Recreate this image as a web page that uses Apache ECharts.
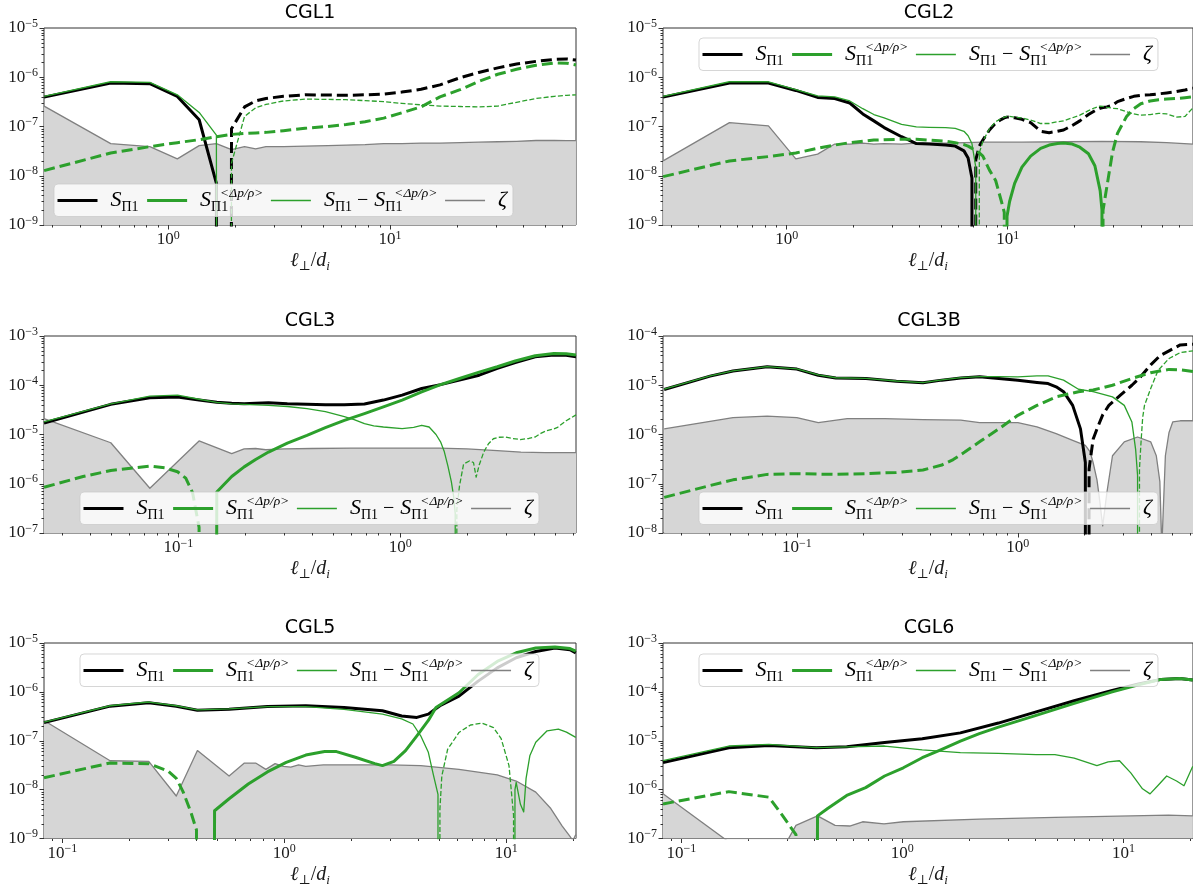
<!DOCTYPE html>
<html>
<head>
<meta charset="utf-8">
<script src="https://cdn.jsdelivr.net/npm/echarts@6/dist/echarts.min.js"></script>
<style>
  html, body { margin: 0; padding: 0; background: #fff; }
  #c { width: 1193px; height: 888px; }
</style>
</head>
<body>
<div id="c"></div>
<script>
// Scale-dependent energy transfer terms vs. l_perp/d_i for six CGL runs.
// Signed values: positive parts are drawn solid, negative parts (as magnitude) dashed.

// ---------- CGL1 ----------
const cgl1_xlim = [0.2757, 68.93];
const cgl1_ylim = [1e-9, 1e-5];
const cgl1_l = [0.276,0.551,0.827,1.10,1.38,1.65,1.93,2.21,2.48,2.76,3.31,4.14,5.24,6.34,7.72,9.37,11.3,13.8,16.8,20.7,25.1,30.6,37.2,45.5,55.1,62.6,68.9];
const cgl1_S = [3.95e-7,7.6e-7,7.4e-7,4.07e-7,1.37e-7,7e-9,-9e-8,-2.5e-7,-3.3e-7,-3.7e-7,-4.1e-7,-4.4e-7,-4.35e-7,-4.3e-7,-4.4e-7,-4.55e-7,-5.0e-7,-5.7e-7,-7.0e-7,-9.8e-7,-1.25e-6,-1.55e-6,-1.85e-6,-2.1e-6,-2.3e-6,-2.35e-6,-2.24e-6];
const cgl1_Sdp = [-1.27e-8,-2.9e-8,-3.9e-8,-4.7e-8,-5.4e-8,-6.2e-8,-6.9e-8,-7.2e-8,-7.4e-8,-7.6e-8,-8.2e-8,-9.2e-8,-1.0e-7,-1.1e-7,-1.25e-7,-1.48e-7,-1.9e-7,-2.5e-7,-4.0e-7,-5.6e-7,-8.2e-7,-1.15e-6,-1.45e-6,-1.75e-6,-1.95e-6,-1.93e-6,-1.78e-6];
const cgl1_Sdiff = [4.1e-7,8.1e-7,7.9e-7,4.4e-7,1.93e-7,6.7e-8,-1.8e-8,-1.6e-7,-2.4e-7,-2.8e-7,-3.3e-7,-3.6e-7,-3.55e-7,-3.5e-7,-3.35e-7,-3.2e-7,-2.95e-7,-2.75e-7,-2.6e-7,-2.55e-7,-2.5e-7,-2.6e-7,-3.1e-7,-3.7e-7,-4.1e-7,-4.3e-7,-4.4e-7];
const cgl1_zeta = [2.6e-7,4.5e-8,3.9e-8,2.2e-8,4.1e-8,4.5e-8,3.4e-8,3.9e-8,3.5e-8,3.9e-8,3.9e-8,4.0e-8,4.1e-8,4.2e-8,4.3e-8,4.5e-8,4.5e-8,4.6e-8,4.6e-8,4.7e-8,4.8e-8,4.9e-8,5.0e-8,5.2e-8,5.2e-8,5.15e-8,5.15e-8];

// ---------- CGL2 ----------
const cgl2_xlim = [0.2757, 68.93];
const cgl2_ylim = [1e-9, 1e-5];
const cgl2_l = [0.276,0.551,0.827,1.10,1.38,1.65,1.93,2.21,2.48,2.76,
  3.31,3.86,4.41,5.24,5.79,6.34,6.62,6.89,7.17,7.44,
  7.72,8.27,8.82,9.37,9.65,9.93,10.2,10.75,11.6,12.7,
  14.1,15.4,16.8,17.9,19.6,21.2,23.2,24.8,26.2,26.7,
  27.0,28.1,29.8,31.4,34.5,37.2,40.0,44.1,48.2,52.4,
  57.9,63.4,68.9];
const cgl2_S = [3.95e-7,7.6e-7,7.6e-7,5.4e-7,3.9e-7,3.7e-7,3.0e-7,1.8e-7,1.3e-7,9.5e-8,
  6.2e-8,4.5e-8,4.4e-8,4.2e-8,4.0e-8,3.2e-8,2.3e-8,9e-9,-2.1e-8,-4e-8,
  -5.3e-8,-8.5e-8,-1.17e-7,-1.4e-7,-1.5e-7,-1.55e-7,-1.57e-7,-1.5e-7,-1.4e-7,-1.2e-7,
  -8e-8,-7.5e-8,-8e-8,-8.5e-8,-1.05e-7,-1.3e-7,-1.75e-7,-2.1e-7,-2.35e-7,-2.4e-7,
  -2.42e-7,-2.5e-7,-2.7e-7,-3.2e-7,-3.7e-7,-4.1e-7,-4.3e-7,-4.4e-7,-4.6e-7,-4.8e-7,
  -5.1e-7,-5.5e-7,-6.0e-7];
const cgl2_Sdp = [-9.6e-9,-2.0e-8,-2.45e-8,-2.9e-8,-3.6e-8,-4.2e-8,-4.7e-8,-5.0e-8,-5.3e-8,-5.4e-8,
  -5.5e-8,-5.5e-8,-5.3e-8,-5.0e-8,-4.7e-8,-4.3e-8,-4.0e-8,-3.6e-8,-3.2e-8,-2.9e-8,
  -2.5e-8,-1.3e-8,-8e-9,-3e-9,-1.8e-9,1.5e-9,3e-9,7e-9,1.5e-8,2.5e-8,
  3.6e-8,4.2e-8,4.5e-8,4.6e-8,4.4e-8,3.8e-8,2.8e-8,1.6e-8,5e-9,2e-9,
  -2e-9,-6e-9,-3e-8,-7.3e-8,-1.6e-7,-2.3e-7,-2.9e-7,-3.3e-7,-3.5e-7,-3.6e-7,
  -3.7e-7,-3.85e-7,-4.0e-7];
const cgl2_Sdiff = [4.1e-7,8.1e-7,8.1e-7,5.6e-7,4.2e-7,4.0e-7,3.3e-7,2.3e-7,1.75e-7,1.5e-7,
  1.1e-7,9.8e-8,9.6e-8,9.5e-8,9.2e-8,8.0e-8,6.5e-8,4.5e-8,1.5e-8,-2.9e-8,
  -5e-8,-9e-8,-1.25e-7,-1.45e-7,-1.55e-7,-1.6e-7,-1.6e-7,-1.55e-7,-1.5e-7,-1.35e-7,
  -1.15e-7,-1.15e-7,-1.25e-7,-1.3e-7,-1.5e-7,-1.7e-7,-2.1e-7,-2.4e-7,-2.6e-7,-2.6e-7,
  -2.55e-7,-2.45e-7,-2.35e-7,-2.3e-7,-2.0e-7,-1.8e-7,-1.7e-7,-1.75e-7,-1.85e-7,-1.8e-7,
  -1.55e-7,-1.6e-7,-2.4e-7];
const cgl2_zeta_l = [0.276,0.551,0.827,1.10,1.38,1.65,1.93,2.21,2.48,2.76,3.31,3.86,5.24,7.72,11.6,17.9,26.7,40.0,52.4,68.9];
const cgl2_zeta = [2.0e-8,1.2e-7,1.03e-7,2.2e-8,2.75e-8,4.4e-8,4.4e-8,4.6e-8,4.4e-8,4.5e-8,4.4e-8,4.6e-8,4.6e-8,4.8e-8,4.8e-8,4.9e-8,5.0e-8,4.9e-8,4.7e-8,4.4e-8];

// ---------- CGL3 ----------
const cgl3_xlim = [0.0248, 6.2];
const cgl3_ylim = [1e-7, 1e-3];
const cgl3_S_l = [0.0248,0.0496,0.0744,0.0992,0.124,0.149,0.174,0.198,0.223,0.255,0.31,0.38,0.46,0.56,0.69,0.84,1.02,1.25,1.52,1.85,2.27,2.74,3.3,4.06,4.93,5.6,6.2];
const cgl3_S = [1.71e-5,4.1e-5,5.6e-5,5.8e-5,5.0e-5,4.5e-5,4.3e-5,4.2e-5,4.3e-5,4.4e-5,4.2e-5,4.1e-5,4.0e-5,4.0e-5,4.15e-5,5.0e-5,6.3e-5,8.6e-5,1.03e-4,1.27e-4,1.6e-4,2.2e-4,2.9e-4,3.8e-4,4.1e-4,4.05e-4,3.8e-4];
const cgl3_Sdp_l = [0.0248,0.0372,0.0496,0.0744,0.0868,0.0992,0.108,0.116,0.124,0.149,0.174,0.198,0.223,0.255,0.31,0.38,0.46,0.56,0.69,0.84,1.02,1.25,1.52,1.85,2.27,2.74,3.3,4.06,4.93,5.6,6.2];
const cgl3_Sdp = [-8.5e-7,-1.4e-6,-1.86e-6,-2.28e-6,-2.1e-6,-1.75e-6,-1.3e-6,-6.5e-7,-1.3e-7,6.8e-7,1.4e-6,2.2e-6,3.1e-6,4.4e-6,6.7e-6,9.6e-6,1.38e-5,1.94e-5,2.65e-5,3.63e-5,5.0e-5,7.3e-5,1.03e-4,1.37e-4,1.85e-4,2.37e-4,3.1e-4,3.97e-4,4.4e-4,4.35e-4,4.1e-4];
const cgl3_Sdiff_l = [0.0248,0.0496,0.0744,0.0992,0.124,0.149,0.174,0.198,0.255,0.31,0.38,0.46,0.56,0.62,0.69,0.76,0.84,1.02,1.15,1.25,1.35,1.45,1.52,1.58,1.64,1.70,1.74,1.77,1.80,1.85,1.93,2.05,2.14,2.2,2.27,2.38,2.5,2.63,2.8,2.97,3.2,3.48,3.8,4.06,4.3,4.57,4.93,5.12,5.6,6.2];
const cgl3_Sdiff = [1.8e-5,4.2e-5,6.0e-5,6.3e-5,5.2e-5,4.5e-5,4.2e-5,4.1e-5,3.9e-5,3.7e-5,3.36e-5,2.9e-5,2.3e-5,2.0e-5,1.66e-5,1.5e-5,1.42e-5,1.32e-5,1.4e-5,1.54e-5,1.42e-5,1.0e-5,7.1e-6,4.5e-6,2.3e-6,1.1e-6,5.7e-7,2.5e-7,-3e-7,-9e-7,-2.5e-6,-2.9e-6,-2.7e-6,-1.37e-6,-2.4e-6,-4.4e-6,-6.5e-6,-8.2e-6,-8.8e-6,-8.9e-6,-8.3e-6,-7.9e-6,-8.3e-6,-8.9e-6,-1.05e-5,-1.2e-5,-1.3e-5,-1.4e-5,-1.9e-5,-2.5e-5];
const cgl3_zeta_l = [0.0248,0.0496,0.0744,0.124,0.174,0.198,0.223,0.248,0.3,0.4,0.6,1.0,1.5,2.0,2.74,3.5,4.5,6.2];
const cgl3_zeta = [2.1e-5,6.8e-6,8.1e-7,7.4e-6,4.1e-6,5.1e-6,5.2e-6,4.9e-6,5.1e-6,5.2e-6,5.3e-6,5.3e-6,5.3e-6,5.1e-6,4.7e-6,4.4e-6,4.3e-6,4.3e-6];

// ---------- CGL3B ----------
const cgl3b_xlim = [0.0248, 6.2];
const cgl3b_ylim = [1e-8, 1e-4];
const cgl3b_S_l = [0.0251,0.0405,0.0514,0.0734,0.1,0.125,0.15,0.2055,0.282,0.372,0.453,0.552,0.671,0.82,1.0,1.22,1.37,1.49,1.61,1.77,1.92,2.02,2.10,2.19,2.28,2.42,2.58,2.91,3.28,3.6,3.99,4.4,4.83,5.43,6.2];
const cgl3b_S = [8.2e-6,1.53e-5,1.94e-5,2.37e-5,2.13e-5,1.6e-5,1.41e-5,1.37e-5,1.21e-5,1.12e-5,1.27e-5,1.41e-5,1.48e-5,1.37e-5,1.27e-5,1.14e-5,1.08e-5,9.3e-6,7.4e-6,3.9e-6,1.3e-6,2.7e-7,-2.0e-7,-8e-7,-1.3e-6,-2.5e-6,-3.9e-6,-6.3e-6,-1.0e-5,-1.5e-5,-2.6e-5,-4.0e-5,-5.0e-5,-6.6e-5,-6.8e-5];
const cgl3b_Sdp_l = [0.0251,0.0405,0.0514,0.0734,0.1,0.15,0.2055,0.282,0.372,0.453,0.51,0.575,0.671,0.82,1.0,1.22,1.49,1.88,2.19,2.68,3.28,3.99,4.83,5.43,6.2];
const cgl3b_Sdp = [-5.3e-8,-9.2e-8,-1.2e-7,-1.55e-7,-1.6e-7,-1.55e-7,-1.6e-7,-1.7e-7,-1.9e-7,-2.4e-7,-3.1e-7,-4.4e-7,-7.1e-7,-1.3e-6,-2.45e-6,-3.9e-6,-5.8e-6,-7.4e-6,-8.0e-6,-1.0e-5,-1.37e-5,-1.8e-5,-2.1e-5,-2.05e-5,-1.9e-5];
const cgl3b_Sdiff_l = [0.0251,0.0405,0.0514,0.0734,0.1,0.125,0.15,0.2055,0.282,0.372,0.453,0.552,0.671,0.82,1.0,1.22,1.37,1.61,1.88,2.19,2.68,3.03,3.28,3.41,3.48,3.55,3.6,3.67,3.74,3.99,4.31,4.83,5.43,6.2];
const cgl3b_Sdiff = [8.3e-6,1.55e-5,1.96e-5,2.4e-5,2.15e-5,1.62e-5,1.42e-5,1.38e-5,1.22e-5,1.13e-5,1.28e-5,1.43e-5,1.5e-5,1.5e-5,1.48e-5,1.55e-5,1.55e-5,1.27e-5,8.3e-6,7.4e-6,5.8e-6,3.9e-6,1.8e-6,5e-7,1.5e-7,-2e-7,-6e-7,-2.2e-6,-3.9e-6,-8.6e-6,-2.0e-5,-3.5e-5,-4.6e-5,-5.0e-5];
const cgl3b_zeta_l = [0.0251,0.0405,0.0514,0.0734,0.1,0.125,0.169,0.25,0.372,0.552,0.671,1.0,1.22,1.49,1.77,2.02,2.12,2.19,2.28,2.33,2.42,2.53,2.68,3.03,3.48,3.99,4.23,4.39,4.48,4.65,4.83,5.02,5.43,6.2];
const cgl3b_zeta = [1.3e-6,1.85e-6,2.2e-6,2.37e-6,2.2e-6,1.74e-6,2.1e-6,2.1e-6,2.0e-6,1.95e-6,1.74e-6,1.74e-6,1.43e-6,1.04e-6,7.6e-7,6e-7,4.5e-7,2.7e-7,1.2e-7,5.8e-8,1.4e-8,6.8e-8,3.7e-7,7.1e-7,8.9e-7,7.1e-7,3.7e-7,1.1e-7,5e-9,3.7e-7,1.1e-6,1.8e-6,1.9e-6,1.9e-6];

// ---------- CGL5 ----------
const cgl5_xlim = [0.0826, 20.65];
const cgl5_ylim = [1e-9, 1e-5];
const cgl5_S_l = [0.0826,0.164,0.245,0.326,0.406,0.564,0.839,1.25,1.86,2.77,3.38,3.96,4.46,5.03,6.13,7.48,9.12,11.1,13.6,16.6,19.4,20.6];
const cgl5_S = [2.35e-7,5.1e-7,6.0e-7,5.1e-7,4.2e-7,4.4e-7,5.0e-7,5.2e-7,4.8e-7,4.1e-7,3.2e-7,3.0e-7,3.5e-7,5.2e-7,8.2e-7,1.66e-6,3.1e-6,5.0e-6,6.7e-6,7.9e-6,7.3e-6,6.3e-6];
const cgl5_Sdp_l = [0.0826,0.164,0.245,0.299,0.326,0.35,0.379,0.402,0.485,0.564,0.688,0.839,1.02,1.25,1.52,1.72,2.09,2.56,2.77,3.12,3.52,3.96,4.46,4.83,6.13,7.48,9.12,11.1,13.6,16.6,19.4,20.6];
const cgl5_Sdp = [-1.75e-8,-3.5e-8,-3.4e-8,-2.4e-8,-1.7e-8,-9e-9,-3.5e-9,-1.5e-9,3.7e-9,6.5e-9,1.3e-8,2.3e-8,3.6e-8,5.1e-8,6.0e-8,6.0e-8,4.6e-8,3.4e-8,3.1e-8,3.8e-8,6.3e-8,1.26e-7,2.6e-7,4.8e-7,9.6e-7,2.27e-6,4.2e-6,6.3e-6,7.9e-6,8.3e-6,7.7e-6,6.8e-6];
const cgl5_Sdiff_l = [0.0826,0.164,0.245,0.326,0.406,0.564,0.839,1.25,1.86,2.77,3.38,3.8,4.12,4.46,4.7,4.93,5.03,5.13,5.45,6.13,6.91,7.78,8.77,9.5,10.3,10.8,10.96,11.1,11.6,12.0,12.3,12.8,13.6,15.3,17.2,18.7,20.6];
const cgl5_Sdiff = [2.4e-7,5.2e-7,6.2e-7,5.2e-7,4.3e-7,4.5e-7,5.0e-7,5.0e-7,4.4e-7,3.5e-7,2.8e-7,2.2e-7,1.26e-7,5.8e-8,2e-8,8e-9,-4e-9,-1.9e-8,-6.7e-8,-1.48e-7,-2.1e-7,-2.3e-7,-1.86e-7,-1.1e-7,-3.1e-8,-3e-9,1e-8,1.4e-8,5e-9,3.5e-9,1.7e-8,5e-8,9.3e-8,1.6e-7,1.73e-7,1.5e-7,1.17e-7];
const cgl5_zeta_l = [0.0826,0.164,0.245,0.326,0.406,0.564,0.661,0.743,0.826,0.909,0.99,1.07,1.16,1.25,1.5,2.0,3.0,4.12,6.13,9.12,11.1,13.6,15.9,17.9,19.4,20.0,20.6];
const cgl5_zeta = [2.6e-7,3.9e-8,3.8e-8,7.4e-9,6.3e-8,1.9e-8,3.5e-8,3.5e-8,2.6e-8,3.4e-8,3.0e-8,2.9e-8,3.2e-8,3.0e-8,3.2e-8,3.2e-8,3.2e-8,3.1e-8,2.6e-8,2.0e-8,1.5e-8,8.9e-9,4.1e-9,1.8e-9,1.1e-9,9e-10,1.2e-9];

// ---------- CGL6 ----------
const cgl6_xlim = [0.0826, 20.65];
const cgl6_ylim = [1e-7, 1e-3];
const cgl6_S_l = [0.0826,0.164,0.249,0.408,0.56,0.831,1.23,1.83,2.72,4.03,5.99,8.9,11.7,14.8,18.0,20.6];
const cgl6_S = [3.6e-6,7.2e-6,8.0e-6,7.2e-6,7.5e-6,9.2e-6,1.1e-5,1.45e-5,2.3e-5,3.9e-5,6.6e-5,1.07e-4,1.45e-4,1.8e-4,1.87e-4,1.75e-4];
const cgl6_Sdp_l = [0.0826,0.164,0.249,0.286,0.33,0.413,0.459,0.56,0.682,0.831,1.01,1.23,1.5,1.83,2.23,2.72,4.03,5.99,8.9,11.7,14.8,18.0,20.6];
const cgl6_Sdp = [-5.1e-7,-9.1e-7,-7.0e-7,-3.0e-7,-1.2e-7,2.9e-7,4.1e-7,7.6e-7,1.1e-6,1.9e-6,2.8e-6,4.5e-6,6.6e-6,9.8e-6,1.4e-5,1.9e-5,3.3e-5,5.8e-5,1.0e-4,1.4e-4,1.8e-4,1.88e-4,1.75e-4];
const cgl6_Sdiff_l = [0.0826,0.164,0.249,0.408,0.56,0.831,1.23,1.83,2.72,4.03,4.9,5.99,7.59,8.53,9.6,10.8,12.2,13.2,14.3,15.7,17.4,18.8,20.6];
const cgl6_Sdiff = [3.9e-6,7.8e-6,8.4e-6,7.2e-6,7.5e-6,7.8e-6,6.5e-6,5.7e-6,5.5e-6,5.2e-6,5.2e-6,4.4e-6,3.1e-6,3.7e-6,3.9e-6,2.2e-6,1.04e-6,8.2e-7,1.2e-6,1.9e-6,1.5e-6,1.2e-6,3.0e-6];
const cgl6_zeta_l = [0.0826,0.164,0.249,0.33,0.413,0.496,0.578,0.661,0.826,1.01,2.23,4.9,10.8,16.0,20.6];
const cgl6_zeta = [8.2e-7,8.5e-8,1.9e-8,1.86e-7,2.9e-7,1.86e-7,1.8e-7,2.2e-7,2.0e-7,2.2e-7,2.5e-7,2.7e-7,2.9e-7,3.0e-7,2.9e-7];

// ---------- panel layout ----------
const panels = [
  { title: 'CGL1', xlim: cgl1_xlim, ylim: cgl1_ylim, S: [cgl1_l, cgl1_S], Sdp: [cgl1_l, cgl1_Sdp], Sdiff: [cgl1_l, cgl1_Sdiff], zeta: [cgl1_l, cgl1_zeta], left: 44, top: 28, legend: [54, 184] },
  { title: 'CGL2', xlim: cgl2_xlim, ylim: cgl2_ylim, S: [cgl2_l, cgl2_S], Sdp: [cgl2_l, cgl2_Sdp], Sdiff: [cgl2_l, cgl2_Sdiff], zeta: [cgl2_zeta_l, cgl2_zeta], left: 663, top: 28, legend: [699, 38] },
  { title: 'CGL3', xlim: cgl3_xlim, ylim: cgl3_ylim, S: [cgl3_S_l, cgl3_S], Sdp: [cgl3_Sdp_l, cgl3_Sdp], Sdiff: [cgl3_Sdiff_l, cgl3_Sdiff], zeta: [cgl3_zeta_l, cgl3_zeta], left: 44, top: 336, legend: [80, 492] },
  { title: 'CGL3B', xlim: cgl3b_xlim, ylim: cgl3b_ylim, S: [cgl3b_S_l, cgl3b_S], Sdp: [cgl3b_Sdp_l, cgl3b_Sdp], Sdiff: [cgl3b_Sdiff_l, cgl3b_Sdiff], zeta: [cgl3b_zeta_l, cgl3b_zeta], left: 663, top: 336, legend: [699, 492] },
  { title: 'CGL5', xlim: cgl5_xlim, ylim: cgl5_ylim, S: [cgl5_S_l, cgl5_S], Sdp: [cgl5_Sdp_l, cgl5_Sdp], Sdiff: [cgl5_Sdiff_l, cgl5_Sdiff], zeta: [cgl5_zeta_l, cgl5_zeta], left: 44, top: 643, legend: [80, 654] },
  { title: 'CGL6', xlim: cgl6_xlim, ylim: cgl6_ylim, S: [cgl6_S_l, cgl6_S], Sdp: [cgl6_Sdp_l, cgl6_Sdp], Sdiff: [cgl6_Sdiff_l, cgl6_Sdiff], zeta: [cgl6_zeta_l, cgl6_zeta], left: 663, top: 643, legend: [699, 654] }
];
const W = 532, H = 197;

const SERIF = "'Liberation Serif','DejaVu Serif',serif";
const GREEN = '#2ca02c';
const AXIS = '#333';
const FLOOR = -300; // stands in for log10(0) when the other sign is active

// log10 pairs for one sign of a signed series
function logPairs(ls, vs, sign) {
  return ls.map((l, i) => {
    const v = vs[i] * sign;
    return [Math.log10(l), v > 0 ? Math.log10(v) : FLOOR];
  });
}
function decades(lo, hi) {
  const out = [];
  for (let n = Math.ceil(lo - 1e-9); n <= hi + 1e-9; n++) out.push(n);
  return out;
}
function minorTicks(lo, hi) {
  const out = [];
  for (let n = Math.floor(lo); n <= Math.ceil(hi); n++) {
    for (let k = 2; k <= 9; k++) {
      const v = n + Math.log10(k);
      if (v > lo + 1e-9 && v < hi - 1e-9) out.push(v);
    }
  }
  return out;
}
function powLabel(v) {
  const n = Math.round(v);
  return '{b|10}{e|' + (n < 0 ? '\u2212' : '') + Math.abs(n) + '}';
}
const TICK_RICH = {
  b: { fontFamily: SERIF, fontSize: 17, lineHeight: 20, color: '#1a1a1a' },
  e: { fontFamily: SERIF, fontSize: 12, verticalAlign: 'top', height: 11, color: '#1a1a1a' }
};
const NAME_RICH = {
  l: { fontFamily: SERIF, fontStyle: 'italic', fontSize: 20, lineHeight: 24, color: '#1a1a1a' },
  s: { fontFamily: SERIF, fontSize: 13, verticalAlign: 'bottom', height: 12, color: '#1a1a1a' },
  si: { fontFamily: SERIF, fontStyle: 'italic', fontSize: 13, verticalAlign: 'bottom', height: 12, color: '#1a1a1a' },
  n: { fontFamily: SERIF, fontSize: 20, color: '#1a1a1a' }
};
const LEG_RICH = {
  S: { fontFamily: SERIF, fontStyle: 'italic', fontSize: 22, lineHeight: 28, color: '#000' },
  sb: { fontFamily: SERIF, fontSize: 14, verticalAlign: 'bottom', height: 14, color: '#000' },
  sbk: { fontFamily: SERIF, fontSize: 14, verticalAlign: 'bottom', height: 14, width: 9, color: '#000' },
  sp: { fontFamily: SERIF, fontStyle: 'italic', fontSize: 13.5, verticalAlign: 'top', height: 13, color: '#000' },
  op: { fontFamily: SERIF, fontSize: 20, padding: [0, 6, 0, 5], color: '#000' },
  z: { fontFamily: SERIF, fontStyle: 'italic', fontSize: 22, color: '#000' }
};
const LEG_TEXT = {
  S_Pi1: '{S|S}{sb|\u03A01}',
  S_dp: '{S|S}{sbk|\u03A01}{sp|<\u0394p/\u03C1>}',
  S_diff: '{S|S}{sb|\u03A01}{op|\u2212}{S|S}{sbk|\u03A01}{sp|<\u0394p/\u03C1>}',
  zeta: '{z|\u03B6}'
};
const X_NAME = '{l|\u2113}{s|\u22A5}{n|/}{l|d}{si|i}';

const grid = [], xAxis = [], yAxis = [], series = [], title = [], legend = [];

panels.forEach((p, i) => {
  const xlo = Math.log10(p.xlim[0]), xhi = Math.log10(p.xlim[1]);
  const ylo = Math.log10(p.ylim[0]), yhi = Math.log10(p.ylim[1]);
  grid.push({ left: p.left, top: p.top, width: W, height: H, show: true, borderColor: AXIS, borderWidth: 1, backgroundColor: 'transparent' });

  const xMaj = decades(xlo, xhi), yMaj = decades(ylo, yhi);
  const noLine = { show: false, onZero: false };
  xAxis.push({
    type: 'value', gridIndex: i, position: 'bottom', min: xlo, max: xhi,
    axisLine: noLine, splitLine: { show: false },
    axisTick: { show: true, customValues: xMaj, length: 4.5, lineStyle: { color: AXIS, width: 1 } },
    axisLabel: { show: true, customValues: xMaj, formatter: powLabel, margin: 5, rich: TICK_RICH },
    name: X_NAME, nameLocation: 'middle', nameGap: 24, nameTextStyle: { rich: NAME_RICH }
  });
  xAxis.push({
    type: 'value', gridIndex: i, position: 'bottom', min: xlo, max: xhi,
    axisLine: noLine, splitLine: { show: false }, axisLabel: { show: false },
    axisTick: { show: true, customValues: minorTicks(xlo, xhi), length: 2.5, lineStyle: { color: AXIS, width: 1 } }
  });
  yAxis.push({
    type: 'value', gridIndex: i, position: 'left', min: ylo, max: yhi,
    axisLine: noLine, splitLine: { show: false },
    axisTick: { show: true, customValues: yMaj, length: 4.5, lineStyle: { color: AXIS, width: 1 } },
    axisLabel: { show: true, customValues: yMaj, formatter: powLabel, margin: 6, rich: TICK_RICH }
  });
  yAxis.push({
    type: 'value', gridIndex: i, position: 'left', min: ylo, max: yhi,
    axisLine: noLine, splitLine: { show: false }, axisLabel: { show: false },
    axisTick: { show: true, customValues: minorTicks(ylo, yhi), length: 2.5, lineStyle: { color: AXIS, width: 1 } }
  });

  const ax = { xAxisIndex: 2 * i, yAxisIndex: 2 * i, symbol: 'none', smooth: false, clip: true, silent: true, animation: false };

  series.push(Object.assign({}, ax, {
    type: 'line', name: 'zeta', z: 1, data: logPairs(p.zeta[0], p.zeta[1], 1),
    lineStyle: { color: '#808080', width: 1.3, join: 'round' },
    areaStyle: { color: '#d6d6d6', opacity: 1, origin: 'start' }
  }));
  const curves = [
    { key: 'S', name: 'S_Pi1', color: '#000', width: 3, dash: [11, 5], z: 2 },
    { key: 'Sdp', name: 'S_dp', color: GREEN, width: 3, dash: [11, 5], z: 2 },
    { key: 'Sdiff', name: 'S_diff', color: GREEN, width: 1.3, dash: [5, 2.2], z: 3 }
  ];
  curves.forEach(c => {
    series.push(Object.assign({}, ax, {
      type: 'line', name: c.name, z: c.z, data: logPairs(p[c.key][0], p[c.key][1], 1),
      lineStyle: { color: c.color, width: c.width, join: 'round' }
    }));
    series.push(Object.assign({}, ax, {
      type: 'line', name: c.name + '_neg', z: c.z, data: logPairs(p[c.key][0], p[c.key][1], -1),
      lineStyle: { color: c.color, width: c.width, type: c.dash, join: 'round' }
    }));
  });

  title.push({
    text: p.title, left: p.left + W / 2, top: p.top - 24, textAlign: 'center', padding: 0,
    textStyle: { fontFamily: "'DejaVu Sans',sans-serif", fontSize: 19, fontWeight: 'normal', color: '#000' }
  });

  legend.push({
    left: p.legend[0], top: p.legend[1], orient: 'horizontal', selectedMode: false,
    itemWidth: 40, itemHeight: 14, itemGap: 7, padding: [2, 6, 2, 2],
    backgroundColor: 'rgba(255,255,255,0.8)', borderColor: 'rgba(204,204,204,0.8)', borderWidth: 1, borderRadius: 4,
    itemStyle: { opacity: 0 },
    data: [
      { name: 'S_Pi1', lineStyle: { width: 3, color: '#000' } },
      { name: 'S_dp', lineStyle: { width: 3, color: GREEN } },
      { name: 'S_diff', lineStyle: { width: 1.3, color: GREEN } },
      { name: 'zeta', lineStyle: { width: 1.3, color: '#808080' } }
    ],
    formatter: n => LEG_TEXT[n],
    textStyle: { color: '#000', padding: [0, 0, 0, 8], rich: LEG_RICH }
  });
});

const chart = echarts.init(document.getElementById('c'), null, { renderer: 'canvas' });
chart.setOption({ animation: false, backgroundColor: '#fff', title, grid, xAxis, yAxis, legend, series });
</script>
</body>
</html>
